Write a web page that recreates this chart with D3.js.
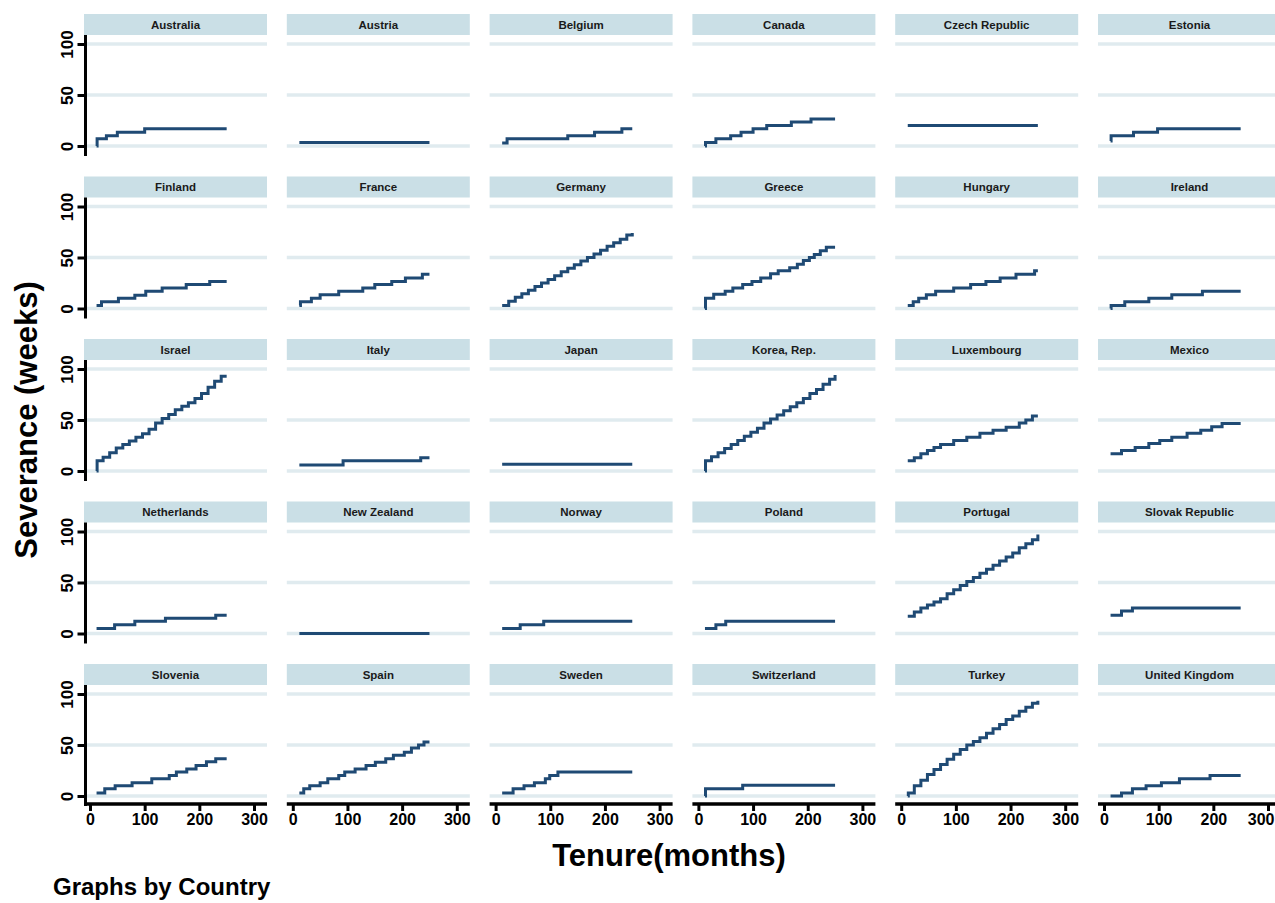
<!DOCTYPE html>
<html>
<head>
<meta charset="utf-8">
<script src="https://d3js.org/d3.v7.min.js"></script>
<style>
body { margin: 0; background: #fff; }
text { font-family: "Liberation Sans", Arial, sans-serif; font-weight: bold; }
</style>
</head>
<body>
<svg id="chart" width="1275" height="903"></svg>
<script>
// panels, in the order Stata lays them out (6 per row)
var countries = ["Australia", "Austria", "Belgium", "Canada", "Czech Republic", "Estonia",
    "Finland", "France", "Germany", "Greece", "Hungary", "Ireland",
    "Israel", "Italy", "Japan", "Korea, Rep.", "Luxembourg", "Mexico",
    "Netherlands", "New Zealand", "Norway", "Poland", "Portugal", "Slovak Republic",
    "Slovenia", "Spain", "Sweden", "Switzerland", "Turkey", "United Kingdom"];

var tenureTicks = [0, 100, 200, 300];
var weeksTicks = [0, 50, 100];

// [tenure in months, severance in weeks]
var australia = [[12, 0], [13, 7], [30, 10], [50, 13.5], [100, 17], [250, 17]];
var austria = [[12, 3.5], [250, 3.5]];
var belgium = [[12, 3], [21, 7], [132, 10], [181, 13.5], [231, 17], [250, 17]];
var canada = [[12, 0], [13, 3.5], [32, 7], [59, 10], [78, 13.5], [100, 17], [125, 20], [170, 23.5], [206, 26.5], [250, 26.5]];
var czech = [[12, 20], [250, 20]];
var estonia = [[12, 5], [13, 10], [54, 13.5], [98, 17], [250, 17]];

var finland = [[12, 3], [21, 6.5], [52, 10], [82, 13], [102, 17], [132, 20], [176, 23.5], [219, 26.5], [250, 26.5]];
var france = [[12, 3], [14, 6.5], [34, 10], [50, 13.5], [84, 17], [128, 20], [150, 23.5], [181, 26.5], [206, 30], [237, 33.5], [250, 33.5]];
var germany = [[12, 3], [24, 7], [36, 11], [48, 14.5], [60, 18], [72, 21.5], [84, 25], [96, 28.5], [108, 32], [120, 36],
    [132, 39.5], [144, 43], [156, 46.5], [168, 50], [180, 53.5], [192, 57], [204, 61], [216, 64.5], [228, 68], [240, 72], [250, 74]];
var greece = [[12, 0], [13, 10], [28, 14], [49, 17], [63, 20], [81, 23.5], [98, 26.5], [114, 30], [132, 34], [146, 37],
    [167, 40], [181, 43.5], [192, 47], [203, 50], [212, 53], [223, 56.5], [234, 60], [250, 60]];
var hungary = [[12, 3], [22, 6.5], [32, 10], [46, 13.5], [63, 17], [96, 20], [127, 23.5], [155, 26.5], [181, 30], [210, 33.5], [244, 37], [250, 37]];
var ireland = [[12, 0], [13, 3], [38, 6.5], [82, 10], [124, 13.5], [180, 17], [250, 17]];

var israel = [[12, 0], [13, 10], [24, 13.5], [36, 18], [48, 22.5], [60, 26], [72, 29.5], [84, 33], [96, 36.5], [108, 41], [120, 47],
    [132, 51.5], [144, 55.5], [156, 60], [168, 63.5], [180, 67], [192, 71], [204, 76], [216, 82], [228, 88], [240, 93], [250, 93]];
var italy = [[12, 6], [92, 10], [234, 13], [250, 13]];
var japan = [[12, 6.5], [250, 6.5]];
var korea = [[12, 0], [13, 10], [24, 14], [36, 18], [48, 22], [60, 26], [72, 30], [84, 34], [96, 38], [108, 42], [120, 47],
    [132, 51], [144, 55], [156, 59], [168, 63], [180, 67], [192, 71], [204, 76], [216, 80], [228, 85], [240, 90], [250, 94]];
var luxembourg = [[12, 10], [24, 13], [36, 17], [48, 20], [60, 23], [72, 26], [96, 30], [120, 33], [144, 37], [168, 40],
    [192, 43], [216, 47], [228, 50], [240, 54], [250, 54]];
var mexico = [[12, 17], [32, 20], [57, 23], [82, 27], [102, 30], [124, 33], [152, 37], [177, 40], [197, 43.5], [216, 46.5], [250, 46.5]];

var netherlands = [[12, 5], [45, 8.5], [82, 12], [138, 15], [230, 18], [250, 18]];
var newZealand = [[12, 0], [250, 0]];
var norway = [[12, 5], [45, 8.5], [88, 12], [250, 12]];
var poland = [[12, 5], [32, 8.5], [50, 12], [250, 12]];
var portugal = [[12, 17], [24, 21], [36, 25], [48, 28], [60, 31], [72, 34], [84, 39], [96, 43], [108, 47], [120, 51],
    [132, 55], [144, 59], [156, 63], [168, 67], [180, 71], [192, 75], [204, 79], [216, 84], [228, 88], [240, 92], [250, 97]];
var slovakia = [[12, 18], [32, 22], [52, 25], [250, 25]];

var slovenia = [[12, 3], [27, 7], [46, 10], [77, 13], [113, 17], [145, 20], [158, 23.5], [177, 26.5], [194, 30], [213, 33.5], [230, 36.5], [250, 36.5]];
var spain = [[12, 3], [20, 7], [31, 10], [50, 13], [64, 17], [84, 20], [95, 23.5], [114, 26.5], [134, 30], [151, 33], [170, 36.5],
    [184, 40], [204, 43], [217, 47], [230, 50], [240, 53], [250, 53]];
var sweden = [[12, 3], [32, 7], [52, 10], [71, 13], [91, 17], [99, 20], [114, 23.5], [250, 23.5]];
var switzerland = [[12, 0], [13, 7], [81, 10.5], [250, 10.5]];
var turkey = [[12, 0], [13, 3], [24, 10], [36, 15.5], [48, 21], [60, 26], [72, 31], [84, 36], [96, 41], [108, 45.5], [120, 50],
    [132, 53.5], [144, 57], [156, 61.5], [168, 66], [180, 70], [192, 75], [204, 78.5], [216, 83], [228, 87], [240, 91], [250, 93.5]];
var uk = [[12, 0], [32, 3], [52, 7], [77, 10], [105, 13], [138, 17], [194, 20], [250, 20]];

var series = [australia, austria, belgium, canada, czech, estonia,
    finland, france, germany, greece, hungary, ireland,
    israel, italy, japan, korea, luxembourg, mexico,
    netherlands, newZealand, norway, poland, portugal, slovakia,
    slovenia, spain, sweden, switzerland, turkey, uk];

var nCols = 6, nRows = 5;
var colLeft = 84, colStep = 202.8, panelW = 183;
var rowTop = 14, rowStep = 162.5;
var stripH = 21, plotBottom = 142;

var lineColor = "#1f4a74";
var gridColor = "#e0ebef";
var stripColor = "#cadfe6";

var svg = d3.select("#chart");

var x = d3.scaleLinear().domain([0, 300]).range([6, 170]);
var y = d3.scaleLinear().domain([0, 100]).range([132, 30]);

var line = d3.line()
    .x(function (d) { return x(d[0]); })
    .y(function (d) { return y(d[1]); })
    .curve(d3.curveStepAfter);

countries.forEach(function (name, i) {
    var c = i % nCols, r = Math.floor(i / nCols);
    var left = colLeft + c * colStep;
    var g = svg.append("g")
        .attr("transform", "translate(" + left + "," + (rowTop + r * rowStep) + ")");

    // strip with country name
    g.append("rect")
        .attr("x", 0)
        .attr("y", 0)
        .attr("width", panelW)
        .attr("height", stripH)
        .attr("fill", stripColor);
    g.append("text")
        .attr("x", panelW / 2)
        .attr("y", stripH / 2 + 4)
        .attr("text-anchor", "middle")
        .attr("font-size", 11.5)
        .attr("fill", "#1a1a1a")
        .text(name);

    // grid lines
    g.selectAll(".grid")
        .data(weeksTicks)
        .enter().append("line")
        .attr("x1", 0)
        .attr("x2", panelW)
        .attr("y1", function (d) { return y(d); })
        .attr("y2", function (d) { return y(d); })
        .attr("stroke", gridColor)
        .attr("stroke-width", 3.5);

    g.append("path")
        .datum(series[i])
        .attr("d", line)
        .attr("fill", "none")
        .attr("stroke", lineColor)
        .attr("stroke-width", 3);

    // left axis only on first column
    if (c === 0) {
        var ya = g.append("g")
            .attr("transform", "translate(1.5,0)")
            .call(d3.axisLeft(y).tickValues(weeksTicks).tickSize(8).tickFormat(d3.format("d")));
        ya.select(".domain")
            .attr("d", "M0," + stripH + "V" + plotBottom)
            .attr("stroke", "#000")
            .attr("stroke-width", 3);
        ya.selectAll(".tick line").attr("stroke", "#000").attr("stroke-width", 3);
        ya.selectAll(".tick text")
            .attr("x", 0)
            .attr("dy", 0)
            .attr("transform", "translate(-13,0) rotate(-90)")
            .attr("text-anchor", "middle")
            .attr("font-size", 17)
            .attr("font-family", null)
            .attr("fill", "#000");
    }

    // bottom axis only on last row
    if (r === nRows - 1) {
        var xa = g.append("g")
            .attr("transform", "translate(0," + (plotBottom - 2) + ")")
            .call(d3.axisBottom(x).tickValues(tenureTicks).tickSize(7).tickPadding(3));
        xa.select(".domain")
            .attr("d", "M0,0H" + panelW)
            .attr("stroke", "#000")
            .attr("stroke-width", 3.5);
        xa.selectAll(".tick line").attr("stroke", "#000").attr("stroke-width", 3);
        xa.selectAll(".tick text")
            .attr("font-size", 16)
            .attr("font-family", null)
            .attr("fill", "#000");
        // the last label on the far right panel runs past the page edge, pull it in
        if (c === nCols - 1) {
            xa.selectAll(".tick text")
                .filter(function (d) { return left + x(d) + 14 > 1274; })
                .attr("text-anchor", "end")
                .attr("x", function (d) { return 1274 - left - x(d); });
        }
    }
});

svg.append("text")
    .attr("transform", "translate(37,420) rotate(-90)")
    .attr("text-anchor", "middle")
    .attr("font-size", 31)
    .text("Severance (weeks)");

svg.append("text")
    .attr("x", 669)
    .attr("y", 866)
    .attr("text-anchor", "middle")
    .attr("font-size", 31)
    .text("Tenure(months)");

svg.append("text")
    .attr("x", 53)
    .attr("y", 895)
    .attr("font-size", 24)
    .text("Graphs by Country");
</script>
</body>
</html>
